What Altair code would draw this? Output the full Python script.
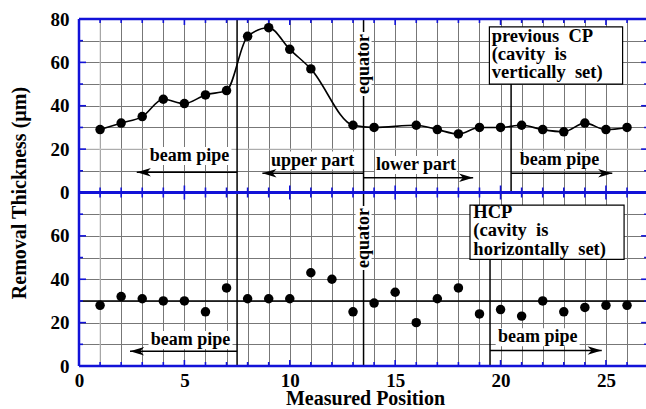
import altair as alt
import pandas as pd

# ---------------- data ----------------
prev_cp_pos = [1, 2, 3, 4, 5, 6, 7, 8, 9, 10, 11, 13, 14, 16, 17, 18, 19, 20, 21, 22, 23, 24, 25, 26]
prev_cp_thk = [29, 32, 35, 43, 41, 45, 47, 72, 76, 66, 57, 31, 30, 31, 29, 27, 30, 30, 31, 29, 28, 32, 29, 30]
hcp_pos = list(range(1, 27))
hcp_thk = [28, 32, 31, 30, 30, 25, 36, 31, 31, 31, 43, 40, 25, 29, 34, 20, 31, 36, 24, 26, 23, 30, 25, 27, 28, 28]
hcp_level = [30]
x_label_values = [0, 5, 10, 15, 20, 25]
y_label_values = [0, 20, 40, 60, 80]

# ---------------- layout constants ----------------
PANEL = 80          # each panel spans 0-80; the upper panel is stacked above the lower one
X_MAX = 26.9
W, H = 567, 347
PX_Y = 2 * PANEL / H
PX_X = X_MAX / W
FONT = "Liberation Serif"
BLUE = "#1212d8"
GRID = "#777777"
X_TITLE = "Measured Position"
Y_TITLE = "Removal Thickness (µm)"

xscale = alt.Scale(domain=[0, X_MAX], nice=False, zero=False)
yscale = alt.Scale(domain=[0, 2 * PANEL], nice=False, zero=False)

xaxis = alt.Axis(
    values=list(range(0, 27)),
    labelExpr=f"indexof({x_label_values}, datum.value) >= 0 ? datum.label : ''",
    grid=True, gridColor=GRID, gridWidth=1, domain=False, ticks=False,
    labelFlush=False, labelOverlap=False,
    labelFont=FONT, labelFontWeight="bold", labelFontSize=19, labelColor="black", labelPadding=5,
    titleFont=FONT, titleFontWeight="bold", titleFontSize=20,
    titleColor="black", titleX=286, titleY=38.5, titleBaseline="alphabetic", titleAlign="center",
)
yaxis = alt.Axis(
    values=list(range(0, 2 * PANEL + 1, 10)),
    labelExpr=(f"indexof({y_label_values}, datum.value % {PANEL}) < 0 && datum.value != {2*PANEL} ? '' : "
               f"format(datum.value > {PANEL} ? datum.value - {PANEL} : (datum.value == {PANEL} ? 0 : datum.value), 'd')"),
    grid=True, gridColor=GRID, gridWidth=1, domain=False, ticks=False,
    labelFlush=False, labelOverlap=False,
    labelFont=FONT, labelFontWeight="bold", labelFontSize=19, labelColor="black", labelPadding=10,
    titleFont=FONT, titleFontWeight="bold", titleFontSize=20,
    titleColor="black", titleX=-60, titleY=H / 2, titleAngle=270, titleAlign="center", titleBaseline="middle",
)


def X(f):
    return alt.X(f"{f}:Q", scale=xscale, axis=xaxis, title=X_TITLE)


def Y(f):
    return alt.Y(f"{f}:Q", scale=yscale, axis=yaxis, title=Y_TITLE)


top_df = pd.DataFrame({"pos": prev_cp_pos, "thk": prev_cp_thk})
hcp_df = pd.DataFrame({"pos": hcp_pos, "thk": hcp_thk})

# ---------------- faint grid lines (lighter in the reference) ----------------
faint = pd.DataFrame({"x1": [1, 0], "x2": [1, X_MAX], "y1": [0, PANEL + 20], "y2": [2 * PANEL, PANEL + 20]})
faint_layer = alt.Chart(faint).mark_rule(color="#cccccc", strokeWidth=1).encode(
    x=X("x1"), x2=alt.X2("x2"), y=Y("y1"), y2=alt.Y2("y2"))

# ---------------- data layers ----------------
top_base = alt.Chart(top_df).transform_calculate(y=f"datum.thk + {PANEL}")
top_line = top_base.mark_line(color="black", strokeWidth=1.6, interpolate="monotone").encode(
    x=X("pos"), y=Y("y"))
top_pts = top_base.mark_circle(size=90, color="black", opacity=1).encode(x=X("pos"), y=Y("y"))
hcp_pts = alt.Chart(hcp_df).mark_circle(size=90, color="black", opacity=1).encode(x=X("pos"), y=Y("thk"))
hcp_rule = alt.Chart(pd.DataFrame({"y": hcp_level})).mark_rule(color="black", strokeWidth=1.5).encode(
    y=Y("y"), x=alt.value(0), x2=alt.value(W))

# ---------------- annotations ----------------
vlines = pd.DataFrame({
    "x": [7.5, 13.5, 20.5, 19.5],
    "y1": [0, 0, PANEL, 0],
    "y2": [2 * PANEL, 2 * PANEL, 130.0, 49.2],
})
vline_layer = alt.Chart(vlines).mark_rule(color="black", strokeWidth=1.5).encode(
    x=X("x"), y=Y("y1"), y2=alt.Y2("y2"))

arrows = pd.DataFrame({
    "x_from": [7.5, 13.5, 13.5, 20.5, 7.5, 19.5],
    "x_to": [2.74, 8.7, 18.7, 25.3, 2.42, 24.8],
    "y": [89.3, 88.9, 86.8, 88.9, 6.8, 7.2],
    "dir": ["left", "left", "right", "right", "left", "right"],
})
RIGHT_HEAD = "M0,0 L-2,-0.6 L-1.45,0 L-2,0.6 Z"
LEFT_HEAD = "M0,0 L2,-0.6 L1.45,0 L2,0.6 Z"
shaft = alt.Chart(arrows).mark_rule(color="black", strokeWidth=1.5).encode(
    x=X("x_from"), x2=alt.X2("x_to"), y=Y("y"))
heads = alt.Chart(arrows).mark_point(filled=True, color="black", opacity=1, size=200, strokeWidth=0).encode(
    x=X("x_to"), y=Y("y"),
    shape=alt.Shape("dir:N", scale=alt.Scale(domain=["left", "right"], range=[LEFT_HEAD, RIGHT_HEAD]), legend=None))

labels = pd.DataFrame({
    "text": ["beam pipe", "upper part", "lower part", "beam pipe", "beam pipe", "beam pipe"],
    "x": [5.24, 11.08, 15.99, 22.8, 5.29, 21.76],
    "y": [94.5, 92.4, 90.4, 92.7, 9.7, 10.9],
    "hw": [42, 42, 41, 42, 42, 42],
})
label_bg = alt.Chart(labels).transform_calculate(
    x1=f"datum.x - datum.hw * {PX_X}", x2=f"datum.x + datum.hw * {PX_X}",
    y1=f"datum.y - 4 * {PX_Y}", y2=f"datum.y + 14 * {PX_Y}",
).mark_rect(color="white").encode(x=X("x1"), x2=alt.X2("x2"), y=Y("y1"), y2=alt.Y2("y2"))
label_txt = alt.Chart(labels).mark_text(
    font=FONT, fontWeight="bold", fontSize=18, color="black", align="center", baseline="alphabetic"
).encode(x=X("x"), y=Y("y"), text="text:N")

equator = pd.DataFrame({"x": [13.5, 13.5], "y": [139.2, 59.0], "text": ["equator", "equator"]})
eq_bg = alt.Chart(equator).transform_calculate(
    x1=f"datum.x - 8 * {PX_X}", x2=f"datum.x + 8 * {PX_X}",
    y1=f"datum.y - 32 * {PX_Y}", y2=f"datum.y + 32 * {PX_Y}",
).mark_rect(color="white").encode(x=X("x1"), x2=alt.X2("x2"), y=Y("y1"), y2=alt.Y2("y2"))
eq_txt = alt.Chart(equator).mark_text(
    font=FONT, fontWeight="bold", fontSize=18, color="black", angle=270, align="center", baseline="middle"
).encode(x=X("x"), y=Y("y"), text="text:N")

boxes = pd.DataFrame({
    "x1": [19.47, 18.55], "x2": [25.79, 25.86],
    "y1": [130.0, 49.2], "y2": [156.4, 74.2],
    "tx": [19.58, 18.71], "ty": [149.4, 68.1],
    "text": ["previous\u00a0 CP\n(cavity\u00a0 is\nvertically\u00a0 set)",
             "HCP\n(cavity\u00a0 is\nhorizontally\u00a0 set)"],
})
box_rect = alt.Chart(boxes).mark_rect(fill="white", stroke="black", strokeWidth=1.2).encode(
    x=X("x1"), x2=alt.X2("x2"), y=Y("y1"), y2=alt.Y2("y2"))
box_txt = alt.Chart(boxes).mark_text(
    font=FONT, fontWeight="bold", fontSize=18.5, color="black", align="left", baseline="alphabetic",
    lineBreak="\n", lineHeight=18.2,
).encode(x=X("tx"), y=Y("ty"), text="text:N")

# ---------------- blue frame and ticks ----------------
hborders = pd.DataFrame({"y": [0, PANEL, 2 * PANEL], "w": [2.5, 3, 2.5]})
hborder_layer = alt.Chart(hborders).mark_rule(color=BLUE).encode(
    y=Y("y"), x=alt.value(0), x2=alt.value(W + 2), strokeWidth=alt.StrokeWidth("w:Q", scale=None))
vborder_layer = alt.Chart(pd.DataFrame({"x": [0]})).mark_rule(color=BLUE, strokeWidth=2.5).encode(
    x=X("x"), y=alt.value(0), y2=alt.value(H))

tick_rows = []
for i in range(0, 28):
    ln = 6 if i % 5 == 0 else 4
    d = ln * PX_Y
    tick_rows += [
        {"x1": i, "x2": i, "y1": 0, "y2": d},
        {"x1": i, "x2": i, "y1": PANEL - d - 1 * PX_Y, "y2": PANEL + d + 1 * PX_Y},
        {"x1": i, "x2": i, "y1": 2 * PANEL - d, "y2": 2 * PANEL},
    ]
for v in range(0, 2 * PANEL + 1, 10):
    ln = 7 if v % 20 == 0 else 4
    d = ln * PX_X
    tick_rows += [
        {"x1": 0, "x2": d, "y1": v, "y2": v},
        {"x1": 27 - d, "x2": 27, "y1": v, "y2": v},
    ]
ticks_df = pd.DataFrame(tick_rows)
tick_layer = alt.Chart(ticks_df).mark_rule(color=BLUE, strokeWidth=1.6, clip=True).encode(
    x=X("x1"), x2=alt.X2("x2"), y=Y("y1"), y2=alt.Y2("y2"))

chart = alt.layer(
    faint_layer, vline_layer, hcp_rule, label_bg, eq_bg, shaft, heads, label_txt, eq_txt,
    top_line, top_pts, hcp_pts, box_rect, box_txt, hborder_layer, vborder_layer, tick_layer,
).properties(
    width=W, height=H,
    autosize=alt.AutoSizeParams(type="none"),
    padding={"left": 79, "top": 19, "right": 0, "bottom": 43},
    background="white",
).configure_view(stroke=None)

chart.save("out.html", embed_options={"renderer": "svg", "actions": False})
